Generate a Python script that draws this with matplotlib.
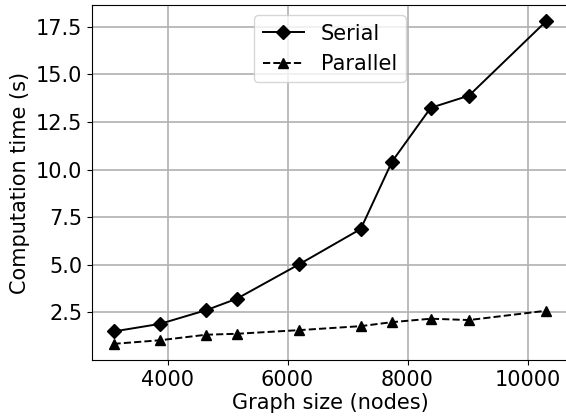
import matplotlib
matplotlib.use("Agg")
import matplotlib.pyplot as plt

nodes = [3100, 3875, 4645, 5155, 6190, 7220, 7742, 8386, 9024, 10312]
serial = [1.50, 1.90, 2.62, 3.22, 5.02, 6.88, 10.42, 13.24, 13.88, 17.79]
parallel = [0.85, 1.04, 1.33, 1.38, 1.57, 1.78, 1.99, 2.17, 2.10, 2.59]

fig = plt.figure(figsize=(5.66, 4.19), dpi=100)
L, R, T, B = 91.9, 567.9, 5.0, 360.0
ax = fig.add_axes([L/566, (419-B)/419, (R-L)/566, (B-T)/419])

ax.plot(nodes, serial, color='black', linestyle='-', marker='D', markersize=7.5,
        linewidth=1.4, label='Serial')
ax.plot(nodes, parallel, color='black', linestyle='--', marker='^', markersize=7.5,
        linewidth=1.4, label='Parallel')

ax.grid(True, color='#b0b0b0', linewidth=1.2)
ax.set_axisbelow(True)
ax.tick_params(labelsize=15)
ax.set_xlabel('Graph size (nodes)', fontsize=15, labelpad=2)
ax.set_ylabel('Computation time (s)', fontsize=15)
ax.set_xticks([4000, 6000, 8000, 10000])
ax.set_yticks([2.5, 5.0, 7.5, 10.0, 12.5, 15.0, 17.5])
ax.legend(loc='upper center', fontsize=15)

fig.savefig('out.png', dpi=100)
